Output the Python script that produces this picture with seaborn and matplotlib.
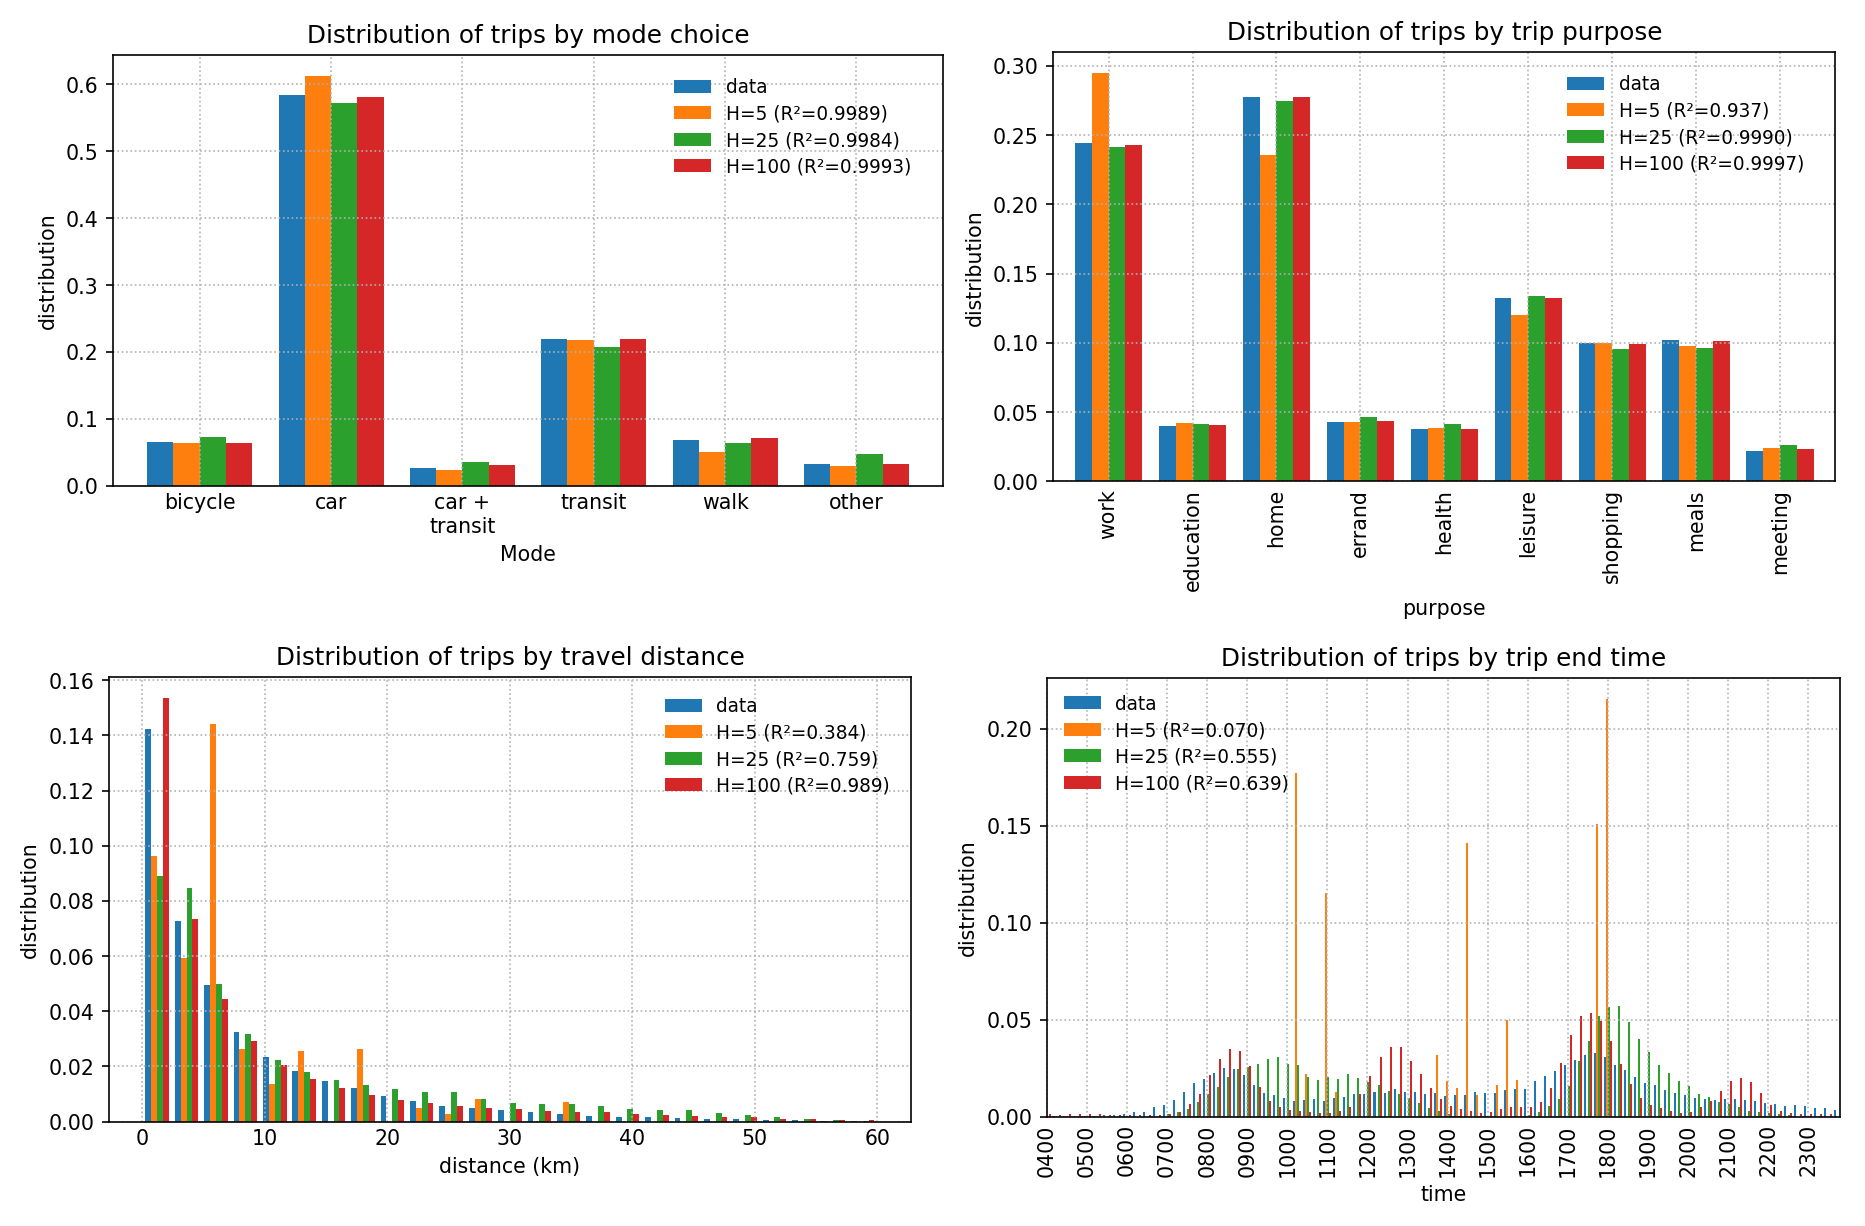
import numpy as np
import pandas as pd
import matplotlib
matplotlib.use('Agg')
import matplotlib.pyplot as plt
import seaborn as sns
from matplotlib.patches import Patch

# 시리즈 이름과 색
series = ['data', 'H=5', 'H=25', 'H=100']
colors = ['#1f77b4', '#ff7f0e', '#2ca02c', '#d62728']

# 이동수단
modes = ['bicycle', 'car', 'car +\ntransit', 'transit', 'walk', 'other']
mode_data = [0.0655, 0.585, 0.027, 0.220, 0.069, 0.032]
mode_h5 = [0.0645, 0.613, 0.024, 0.218, 0.050, 0.030]
mode_h25 = [0.0735, 0.572, 0.036, 0.207, 0.0635, 0.0475]
mode_h100 = [0.0635, 0.581, 0.0315, 0.219, 0.071, 0.033]
mode_r2 = ['0.9989', '0.9984', '0.9993']

# 통행 목적
purposes = ['work', 'education', 'home', 'errand', 'health', 'leisure', 'shopping', 'meals', 'meeting']
purpose_data = [0.244, 0.0401, 0.2775, 0.0430, 0.0377, 0.1324, 0.0998, 0.1024, 0.0220]
purpose_h5 = [0.295, 0.0423, 0.236, 0.0432, 0.0389, 0.1205, 0.1002, 0.0980, 0.0244]
purpose_h25 = [0.2415, 0.0413, 0.2749, 0.0464, 0.0413, 0.1340, 0.0959, 0.0966, 0.0263]
purpose_h100 = [0.2428, 0.0406, 0.2775, 0.0435, 0.0377, 0.1324, 0.0995, 0.1014, 0.0234]
purpose_r2 = ['0.937', '0.9990', '0.9997']

# 통행 거리 (0~60km, 25개 구간)
dist_range = (0, 60)
dist_bins = 25
dist_data = [0.1422, 0.0729, 0.0495, 0.0324, 0.0234, 0.0185, 0.0147, 0.0121, 0.0092, 0.0075,
             0.0058, 0.0048, 0.0042, 0.0034, 0.0027, 0.0021, 0.0016, 0.0016, 0.0012, 0.0008,
             0.0008, 0.0006, 0.0005, 0.0002, 0.0001]
dist_h5 = [0.0964, 0.0592, 0.1442, 0.0262, 0.0137, 0.0257, 0.0, 0.0262, 0.0, 0.0048,
           0.0028, 0.0081, 0.0, 0.0, 0.0072, 0.0, 0.0, 0.0, 0.0, 0.0,
           0.0, 0.0, 0.0, 0.0, 0.0]
dist_h25 = [0.0892, 0.0847, 0.0499, 0.0318, 0.0224, 0.0181, 0.0150, 0.0131, 0.0117, 0.0106,
            0.0106, 0.0081, 0.0069, 0.0064, 0.0063, 0.0056, 0.0047, 0.0042, 0.0042, 0.0032,
            0.0024, 0.0017, 0.0011, 0.0005, 0.0002]
dist_h100 = [0.1535, 0.0735, 0.0446, 0.0292, 0.0207, 0.0153, 0.0121, 0.0095, 0.0080, 0.0066,
             0.0057, 0.0051, 0.0044, 0.0039, 0.0035, 0.0034, 0.0028, 0.0025, 0.0021, 0.0018,
             0.0015, 0.0011, 0.0010, 0.0007, 0.0006]
dist_r2 = ['0.384', '0.759', '0.989']

# 도착 시각 (15분 단위, 04:00 ~ 23:45)
time_centers = np.arange(4, 24, 0.25)
time_data = [0.0003, 0.0003, 0.0003, 0.0003,  0.0004, 0.0005, 0.0007, 0.0010,
             0.0016, 0.0024, 0.0026, 0.0047,  0.0059, 0.0087, 0.0127, 0.0174,
             0.0194, 0.0226, 0.0253, 0.0248,  0.0217, 0.0165, 0.0120, 0.0110,
             0.0097, 0.0078, 0.0087, 0.0092,  0.0082, 0.0097, 0.0102, 0.0118,
             0.0116, 0.0125, 0.0123, 0.0142,  0.0128, 0.0128, 0.0118, 0.0122,
             0.0108, 0.0111, 0.0111, 0.0127,  0.0122, 0.0122, 0.0135, 0.0144,
             0.0144, 0.0184, 0.0207, 0.0236,  0.0267, 0.0292, 0.0316, 0.0330,
             0.0309, 0.0266, 0.0240, 0.0203,  0.0174, 0.0165, 0.0139, 0.0123,
             0.0111, 0.0097, 0.0092, 0.0085,  0.0092, 0.0092, 0.0087, 0.0078,
             0.0069, 0.0066, 0.0054, 0.0059,  0.0054, 0.0045, 0.0045, 0.0035]
time_h5 = [0, 0, 0, 0,  0, 0, 0, 0,  0, 0, 0, 0,  0, 0, 0, 0,  0, 0, 0, 0,  0, 0, 0, 0,
           0, 0.177, 0.0222, 0,  0.1155, 0.0128, 0, 0,  0, 0, 0, 0,  0, 0, 0, 0.0316,
           0.0186, 0.0149, 0.141, 0.0113,  0, 0.0165, 0.0497, 0.0191,  0, 0, 0, 0,
           0, 0, 0, 0.151,  0.2155, 0, 0, 0,  0, 0, 0, 0,  0, 0, 0, 0,  0, 0, 0, 0,
           0, 0, 0, 0,  0, 0, 0, 0]
time_h25 = [0, 0, 0, 0,  0, 0, 0, 0,  0, 0, 0, 0,
            0.0016, 0.0023, 0.0040, 0.0076,  0.0118, 0.0153, 0.0203, 0.0243,
            0.0255, 0.0269, 0.0299, 0.0307,  0.0273, 0.0264, 0.0203, 0.0189,
            0.0205, 0.0196, 0.0219, 0.0201,  0.0177, 0.0163, 0.0134, 0.0115,
            0.0097, 0.0069, 0.0045, 0.0028,  0.0012, 0.0005, 0, 0,
            0, 0, 0, 0,  0.0009, 0.0023, 0.0056, 0.0089,
            0.0160, 0.0285, 0.0392, 0.0521,  0.0564, 0.0571, 0.0488, 0.0398,
            0.0333, 0.0264, 0.0224, 0.0186,  0.0160, 0.0118, 0.0102, 0.0075,
            0.0064, 0.0052, 0.0030, 0.0026,  0.0021, 0.0014, 0.0009, 0,
            0, 0, 0, 0]
time_h100 = [0.0014, 0.0009, 0.0012, 0.0012,  0.0012, 0.0012, 0.0010, 0.0010,
             0.0009, 0.0007, 0.0009, 0.0009,  0.0016, 0.0024, 0.0066, 0.0118,
             0.0212, 0.0295, 0.0347, 0.0337,  0.0260, 0.0151, 0.0082, 0.0052,
             0.0035, 0.0030, 0.0023, 0.0019,  0.0019, 0.0028, 0.0052, 0.0115,
             0.0207, 0.0309, 0.0361, 0.0358,  0.0285, 0.0222, 0.0148, 0.0090,
             0.0056, 0.0040, 0.0030, 0.0017,  0.0026, 0.0040, 0.0047, 0.0047,
             0.0047, 0.0073, 0.0149, 0.0274,  0.0420, 0.0517, 0.0533, 0.0495,
             0.0392, 0.0273, 0.0168, 0.0097,  0.0059, 0.0042, 0.0028, 0.0021,
             0.0026, 0.0047, 0.0082, 0.0134,  0.0182, 0.0201, 0.0179, 0.0120,
             0.0059, 0.0030, 0.0017, 0.0012,  0.0012, 0.0012, 0.0012, 0.0012]
time_r2 = ['0.070', '0.555', '0.639']
time_ticks = ['0400', '0500', '0600', '0700', '0800', '0900', '1000', '1100', '1200', '1300',
              '1400', '1500', '1600', '1700', '1800', '1900', '2000', '2100', '2200', '2300']

plt.rcParams['font.family'] = 'DejaVu Sans'
plt.rcParams['font.size'] = 10
palette = dict(zip(series, colors))


def long_df(cats, cols, name):
    rows = []
    for s, vals in zip(series, cols):
        for c, v in zip(cats, vals):
            rows.append({name: c, 'series': s, 'value': v})
    return pd.DataFrame(rows)


def add_legend(ax, r2, **kw):
    labels = ['data'] + [f'{s} (R\u00b2={r})' for s, r in zip(series[1:], r2)]
    handles = [Patch(facecolor=c, label=l) for c, l in zip(colors, labels)]
    ax.legend(handles=handles, frameon=False, fontsize=9, labelspacing=0.4, **kw)


def finish(ax, title, xlabel):
    ax.set_title(title)
    ax.set_xlabel(xlabel)
    ax.set_ylabel('distribution')
    ax.grid(True, linestyle=':')
    # x축 눈금선은 그리지 않음
    ax.tick_params(axis='x', length=0)


dpi = 148
fig = plt.figure(figsize=(1865.4 / dpi, 1226.4 / dpi), dpi=dpi)

# 1) 이동수단
ax1 = fig.add_axes([0.0606, 0.6036, 0.4450, 0.3510])
df = long_df(modes, [mode_data, mode_h5, mode_h25, mode_h100], 'mode')
sns.barplot(data=df, x='mode', y='value', hue='series', order=modes, hue_order=series,
            palette=palette, saturation=1, errorbar=None, width=0.8, legend=False, ax=ax1)
ax1.set_xlim(-0.66, len(modes) - 0.34)
finish(ax1, 'Distribution of trips by mode choice', 'Mode')
add_legend(ax1, mode_r2, loc='upper right', bbox_to_anchor=(0.982, 0.986))

# 2) 통행 목적
ax2 = fig.add_axes([0.5646, 0.6071, 0.4193, 0.3499])
df = long_df(purposes, [purpose_data, purpose_h5, purpose_h25, purpose_h100], 'purpose')
sns.barplot(data=df, x='purpose', y='value', hue='series', order=purposes, hue_order=series,
            palette=palette, saturation=1, errorbar=None, width=0.8, legend=False, ax=ax2)
ax2.set_xlim(-0.66, len(purposes) - 0.34)
ax2.tick_params(axis='x', rotation=90)
finish(ax2, 'Distribution of trips by trip purpose', 'purpose')
add_legend(ax2, purpose_r2, loc='upper right', bbox_to_anchor=(0.982, 0.986))

# 3) 통행 거리
ax3 = fig.add_axes([0.0584, 0.0851, 0.4299, 0.3625])
dist_step = (dist_range[1] - dist_range[0]) / dist_bins
dist_centers = dist_range[0] + dist_step * (np.arange(dist_bins) + 0.5)
df = long_df(dist_centers, [dist_data, dist_h5, dist_h25, dist_h100], 'distance')
sns.histplot(data=df, x='distance', weights='value', hue='series', hue_order=series,
             palette=palette, bins=dist_bins, binrange=dist_range, multiple='dodge', shrink=0.8,
             alpha=1, linewidth=0, legend=False, ax=ax3)
ax3.set_xlim(-2.74, 62.74)
finish(ax3, 'Distribution of trips by travel distance', 'distance (km)')
add_legend(ax3, dist_r2, loc='upper right', bbox_to_anchor=(0.995, 0.993))

# 4) 도착 시각
ax4 = fig.add_axes([0.5612, 0.0892, 0.4254, 0.3578])
df = long_df(time_centers, [time_data, time_h5, time_h25, time_h100], 'time')
sns.histplot(data=df, x='time', weights='value', hue='series', hue_order=series,
             palette=palette, bins=len(time_centers), binrange=(3.875, 23.875),
             multiple='dodge', shrink=0.8, alpha=1, linewidth=0, legend=False, ax=ax4)
ax4.set_xlim(4.0, 23.8)
ax4.set_xticks(range(4, 24))
ax4.set_xticklabels(time_ticks, rotation=90)
finish(ax4, 'Distribution of trips by trip end time', 'time')
add_legend(ax4, time_r2, loc='upper left')

fig.savefig('out.png', dpi=dpi)
